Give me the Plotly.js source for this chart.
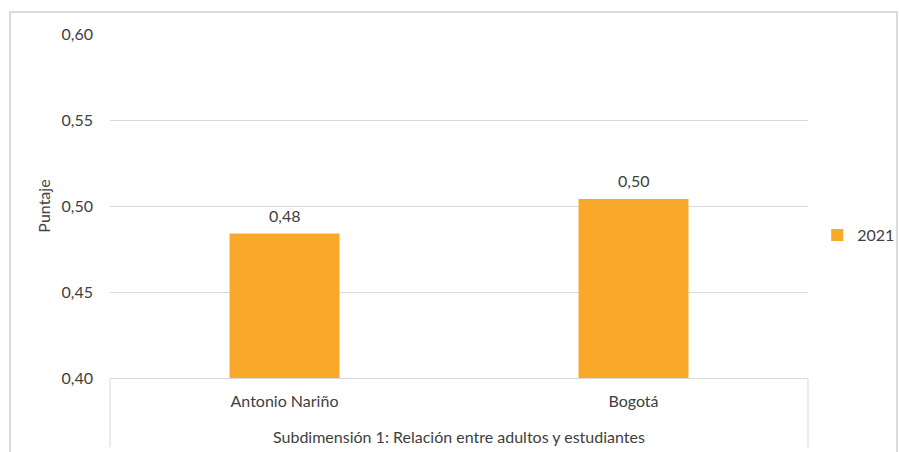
<!DOCTYPE html>
<html>
<head>
<meta charset="utf-8">
<script src="https://cdn.plot.ly/plotly-3.0.1.min.js"></script>
<style>html,body{margin:0;padding:0;background:#fff;}#chart{width:899px;height:452px;}</style>
</head>
<body>
<div id="chart"></div>
<script>
const categories = ["Antonio Nariño", "Bogotá"];
const values2021 = [0.484, 0.504];
const seriesName = "2021";
const groupLabel = "Subdimensión 1: Relación entre adultos y estudiantes";
const yTicks = [0.40, 0.45, 0.50, 0.55, 0.60];

const fam = "Lato, 'Open Sans', sans-serif";
const txt = "#404040";
const grid = "#d9d9d9";

const trace = {
  type: "bar",
  x: categories,
  y: values2021,
  name: seriesName,
  marker: {color: "#F9A82A"},
  width: 0.315,
  showlegend: true
};

const valueLabels = categories.map((c, i) => ({
  x: c, y: values2021[i], xref: "x", yref: "y",
  text: values2021[i].toFixed(2).replace(".", ","),
  showarrow: false, yanchor: "bottom", yshift: 7,
  font: {family: fam, size: 16, color: txt}
}));

const layout = {
  width: 899, height: 452,
  margin: {l: 110, r: 91, t: 34, b: 74, autoexpand: false},
  paper_bgcolor: "#fff", plot_bgcolor: "#fff",
  separators: ", ",
  font: {family: fam, size: 16, color: txt},
  showlegend: true,
  legend: {xref: "container", yref: "container", x: 0.909, xanchor: "left", y: 0.48, yanchor: "middle",
           font: {family: fam, size: 16, color: txt},
           itemwidth: 30, bgcolor: "rgba(0,0,0,0)"},
  xaxis: {
    type: "category",
    showgrid: false,
    showline: true, linecolor: grid, linewidth: 1,
    ticks: "", ticklabelstandoff: 9,
    tickfont: {family: fam, size: 16, color: txt},
    fixedrange: true
  },
  yaxis: {
    range: [0.40, 0.60],
    tickvals: yTicks,
    tickformat: ".2f",
    showgrid: true, gridcolor: grid, gridwidth: 1,
    zeroline: false, showline: false,
    ticks: "", ticklabelstandoff: 16,
    tickfont: {family: fam, size: 16, color: txt},
    title: {text: "Puntaje", font: {family: fam, size: 16, color: txt}, standoff: 6},
    automargin: false,
    fixedrange: true
  },
  annotations: valueLabels.concat([{
    text: groupLabel, xref: "paper", yref: "paper", x: 0.5, y: 0,
    xanchor: "center", yanchor: "middle", yshift: -58, showarrow: false,
    font: {family: fam, size: 16, color: txt}
  }]),
  shapes: [
    {type: "line", xref: "paper", yref: "paper", x0: 0, x1: 0, y0: 0, y1: -0.2006, line: {color: grid, width: 1}},
    {type: "line", xref: "paper", yref: "paper", x0: 1, x1: 1, y0: 0, y1: -0.2006, line: {color: grid, width: 1}},
    {type: "rect", xref: "paper", yref: "paper", x0: -0.1433, x1: 1.1275, y0: -0.5, y1: 1.064, line: {color: "#d0d0d0", width: 1.5}, fillcolor: "rgba(0,0,0,0)"}
  ]
};

Plotly.newPlot("chart", [trace], layout, {displayModeBar: false, staticPlot: true});
</script>
</body>
</html>
